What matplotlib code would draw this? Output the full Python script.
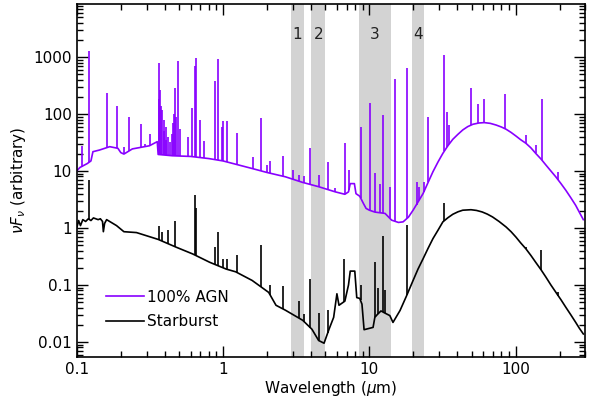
import numpy as np
import matplotlib
matplotlib.use('Agg')
import matplotlib.pyplot as plt
from matplotlib.ticker import FuncFormatter, NullFormatter, LogLocator

# continuum of the 100% AGN template (wavelength in micron, nuFnu)
agn_wl = [0.1, 0.105, 0.118, 0.125, 0.129, 0.143, 0.168, 0.191, 0.2, 0.21,
          0.24, 0.314, 0.355, 0.36, 0.45, 0.6, 0.8, 1.0, 1.57, 2.0, 2.67,
          3.5, 4.5, 5.85, 6.8, 7.2, 7.4, 7.9, 8.1, 8.6, 9.1, 9.5, 10.0,
          10.9, 12.8, 14.2, 15.8, 17.0, 18.5, 19.9, 21.5, 23.3, 25.2, 27.2,
          29.5, 31.8, 34.5, 37.2, 40.3, 43.5, 47, 51, 56, 61, 67, 73.5, 80,
          86, 93, 100.5, 108, 117.5, 127, 137, 149, 161, 174, 188, 204, 220,
          238, 257, 272, 290]
agn_flux = [10, 11.5, 13.5, 15, 21.8, 23.3, 26.7, 25, 21, 19.8,
            24.4, 27.7, 32.7, 19.5, 18.5, 18, 16.5, 15, 11.1, 9.4, 7.9,
            6.3, 5.3, 4.3, 3.9, 4.3, 6.0, 6.0, 4.0, 3.6, 2.7, 2.2, 2.05,
            1.9, 1.8, 1.37, 1.25, 1.28, 1.55, 2.05, 2.85, 4.03, 6.3, 9.7,
            14.5, 20.4, 28, 36, 44, 52.5, 60, 66, 69.5, 70.6, 68.5, 64, 59,
            54, 47.5, 41, 35.5, 30.6, 25.5, 20.4, 16.2, 12.7, 10.0, 7.9, 6.0,
            4.6, 3.4, 2.5, 1.9, 1.4]

# emission lines of the AGN template (wavelength, peak)
agn_line_wl = [0.108, 0.1216, 0.16, 0.187, 0.211, 0.228, 0.274, 0.295, 0.315,
               0.363, 0.365, 0.373, 0.378, 0.384, 0.392, 0.395, 0.405, 0.41,
               0.42, 0.435, 0.445, 0.455, 0.465, 0.473, 0.48, 0.49, 0.507,
               0.575, 0.612, 0.64, 0.655, 0.70, 0.74, 0.88, 0.93, 0.985, 1.0,
               1.07, 1.24, 1.6, 1.83, 2.0, 2.1, 2.57, 3.0, 3.3, 3.6, 3.95,
               4.5, 5.2, 5.8, 6.8, 7.25, 8.7, 10.1, 10.9, 11.8, 12.4, 13.8,
               15.0, 18.1, 21.0, 21.9, 23.6, 25.2, 32.5, 34.0, 35.2, 49.8,
               55.4, 61, 84.6, 117, 137, 151.7, 196]
agn_line_peak = [27, 1250, 232, 140, 26, 90, 66, 30, 44,
                 790, 180, 265, 140, 118, 78, 50, 60, 35,
                 40, 32, 45, 69, 100, 285, 90, 836, 55,
                 40, 127, 700, 960, 78, 33, 380, 930, 60, 74,
                 74, 46, 17.5, 84, 12.5, 15, 18.3, 10.4, 8.5, 8.3, 25,
                 8.5, 14.5, 5, 31, 10.4, 60, 155, 9.2, 6, 96, 5.2,
                 410, 640, 6.4, 5.2, 6.5, 88, 1100, 110, 64, 290,
                 150, 184, 223, 43, 29, 184, 9.7]

# continuum of the starburst template
sb_wl = [0.1, 0.103, 0.106, 0.11, 0.115, 0.12, 0.125, 0.13, 0.14, 0.145,
         0.15, 0.152, 0.155, 0.16, 0.187, 0.21, 0.256, 0.36, 0.478, 0.62,
         0.81, 1.05, 1.22, 1.58, 2.05, 2.3, 2.67, 3.5, 4.05, 4.5, 4.9, 5.3,
         5.7, 6.0, 6.2, 6.8, 7.2, 7.4, 7.95, 8.2, 8.6, 8.9, 9.2, 10.6,
         10.9, 11.3, 12.0, 12.8, 13.8, 14.5, 16.2, 18.0, 19.9, 21.5, 23.3,
         25.2, 27.2, 29.5, 31.8, 34.5, 37.2, 40.3, 43.5, 49.5, 54, 59, 64,
         69.5, 77, 86, 93, 100.5, 108, 117.5, 127, 137, 149, 161, 174, 188,
         204, 220, 238, 257, 272, 290]
sb_flux = [1.0, 1.35, 1.1, 1.4, 1.3, 1.45, 1.35, 1.5, 1.4, 1.45,
           1.3, 0.86, 1.2, 1.4, 1.1, 0.86, 0.83, 0.63, 0.46, 0.35,
           0.25, 0.19, 0.17, 0.12, 0.074, 0.044, 0.036, 0.024, 0.0167,
           0.0106, 0.0095, 0.0167, 0.027, 0.07, 0.044, 0.052, 0.1, 0.175,
           0.175, 0.06, 0.058, 0.046, 0.0164, 0.018, 0.027, 0.03, 0.035,
           0.032, 0.029, 0.022, 0.0356, 0.0654, 0.12, 0.19, 0.289, 0.44,
           0.65, 0.92, 1.28, 1.52, 1.74, 1.92, 2.05, 2.09, 2.03, 1.91, 1.75,
           1.56, 1.3, 1.04, 0.86, 0.69, 0.55, 0.43, 0.33, 0.25, 0.185,
           0.137, 0.1, 0.0747, 0.055, 0.0407, 0.03, 0.0221, 0.0175, 0.0138]

sb_line_wl = [0.1216, 0.364, 0.38, 0.42, 0.47, 0.64, 0.65, 0.88, 0.93, 1.0,
              1.06, 1.25, 1.83, 2.1, 2.57, 3.3, 3.6, 3.95, 4.5, 5.2, 6.7,
              8.7, 10.9, 11.5, 12.4, 12.8, 18.1, 32.3, 117, 150, 196]
sb_line_peak = [7, 1.07, 0.86, 0.93, 1.35, 3.8, 2.2, 0.46, 0.86, 0.28,
                0.28, 0.33, 0.5, 0.1, 0.095, 0.052, 0.031, 0.128, 0.032,
                0.036, 0.28, 0.1, 0.25, 0.087, 0.72, 0.08, 1.12, 2.69, 0.47,
                0.41, 0.075]

# shaded bands (micron) and their labels
band_lo = [2.9, 4.0, 8.5, 19.5]
band_hi = [3.6, 5.0, 14.0, 23.5]
band_names = ['1', '2', '3', '4']

x_ticks = [0.1, 1, 10, 100]
y_ticks = [0.01, 0.1, 1, 10, 100, 1000]

AGN_COLOR = '#8800ff'


def line_base(wl, cont_wl, cont_flux):
    return 10 ** np.interp(np.log10(wl), np.log10(cont_wl), np.log10(cont_flux))


fig = plt.figure(figsize=(5.95, 4.04), dpi=100)
ax = fig.add_axes([0.129, 0.117, 0.855, 0.873])

for lo, hi, name in zip(band_lo, band_hi, band_names):
    ax.axvspan(lo, hi, color='#d3d3d3', lw=0, zorder=0)
    ax.text(np.sqrt(lo * hi), 2500, name, ha='center', va='center',
            fontsize=11, color='#222222')

ax.plot(agn_wl, agn_flux, color=AGN_COLOR, lw=1.2, label='100% AGN')
ax.vlines(agn_line_wl, line_base(agn_line_wl, agn_wl, agn_flux), agn_line_peak,
          color=AGN_COLOR, lw=1.2)
ax.plot(sb_wl, sb_flux, color='black', lw=1.2, label='Starburst')
ax.vlines(sb_line_wl, line_base(sb_line_wl, sb_wl, sb_flux), sb_line_peak,
          color='black', lw=1.2)

ax.set_xscale('log')
ax.set_yscale('log')
ax.set_xlim(0.1, 300)
ax.set_ylim(0.0055, 8500)

fmt = FuncFormatter(lambda v, p: '%g' % v)
ax.set_xticks(x_ticks)
ax.set_yticks(y_ticks)
ax.xaxis.set_major_formatter(fmt)
ax.yaxis.set_major_formatter(fmt)
ax.xaxis.set_minor_formatter(NullFormatter())
ax.yaxis.set_minor_formatter(NullFormatter())
ax.yaxis.set_minor_locator(LogLocator(base=10, subs=np.arange(2, 10), numticks=15))

ax.tick_params(which='both', direction='in', top=True, right=True, labelsize=11)
ax.tick_params(which='major', length=8, width=1)
ax.tick_params(which='minor', length=4, width=1, labelbottom=False, labelleft=False)
for spine in ax.spines.values():
    spine.set_linewidth(1.2)

ax.set_xlabel(r'Wavelength ($\mu$m)', fontsize=11, labelpad=2)
ax.set_ylabel(r'$\nu F_\nu$ (arbitrary)', fontsize=11)

ax.legend(loc='lower left', bbox_to_anchor=(0.03, 0.04), frameon=False,
          fontsize=11, handlelength=2.5, handletextpad=0.2, labelspacing=0.6)

plt.savefig('out.png')
